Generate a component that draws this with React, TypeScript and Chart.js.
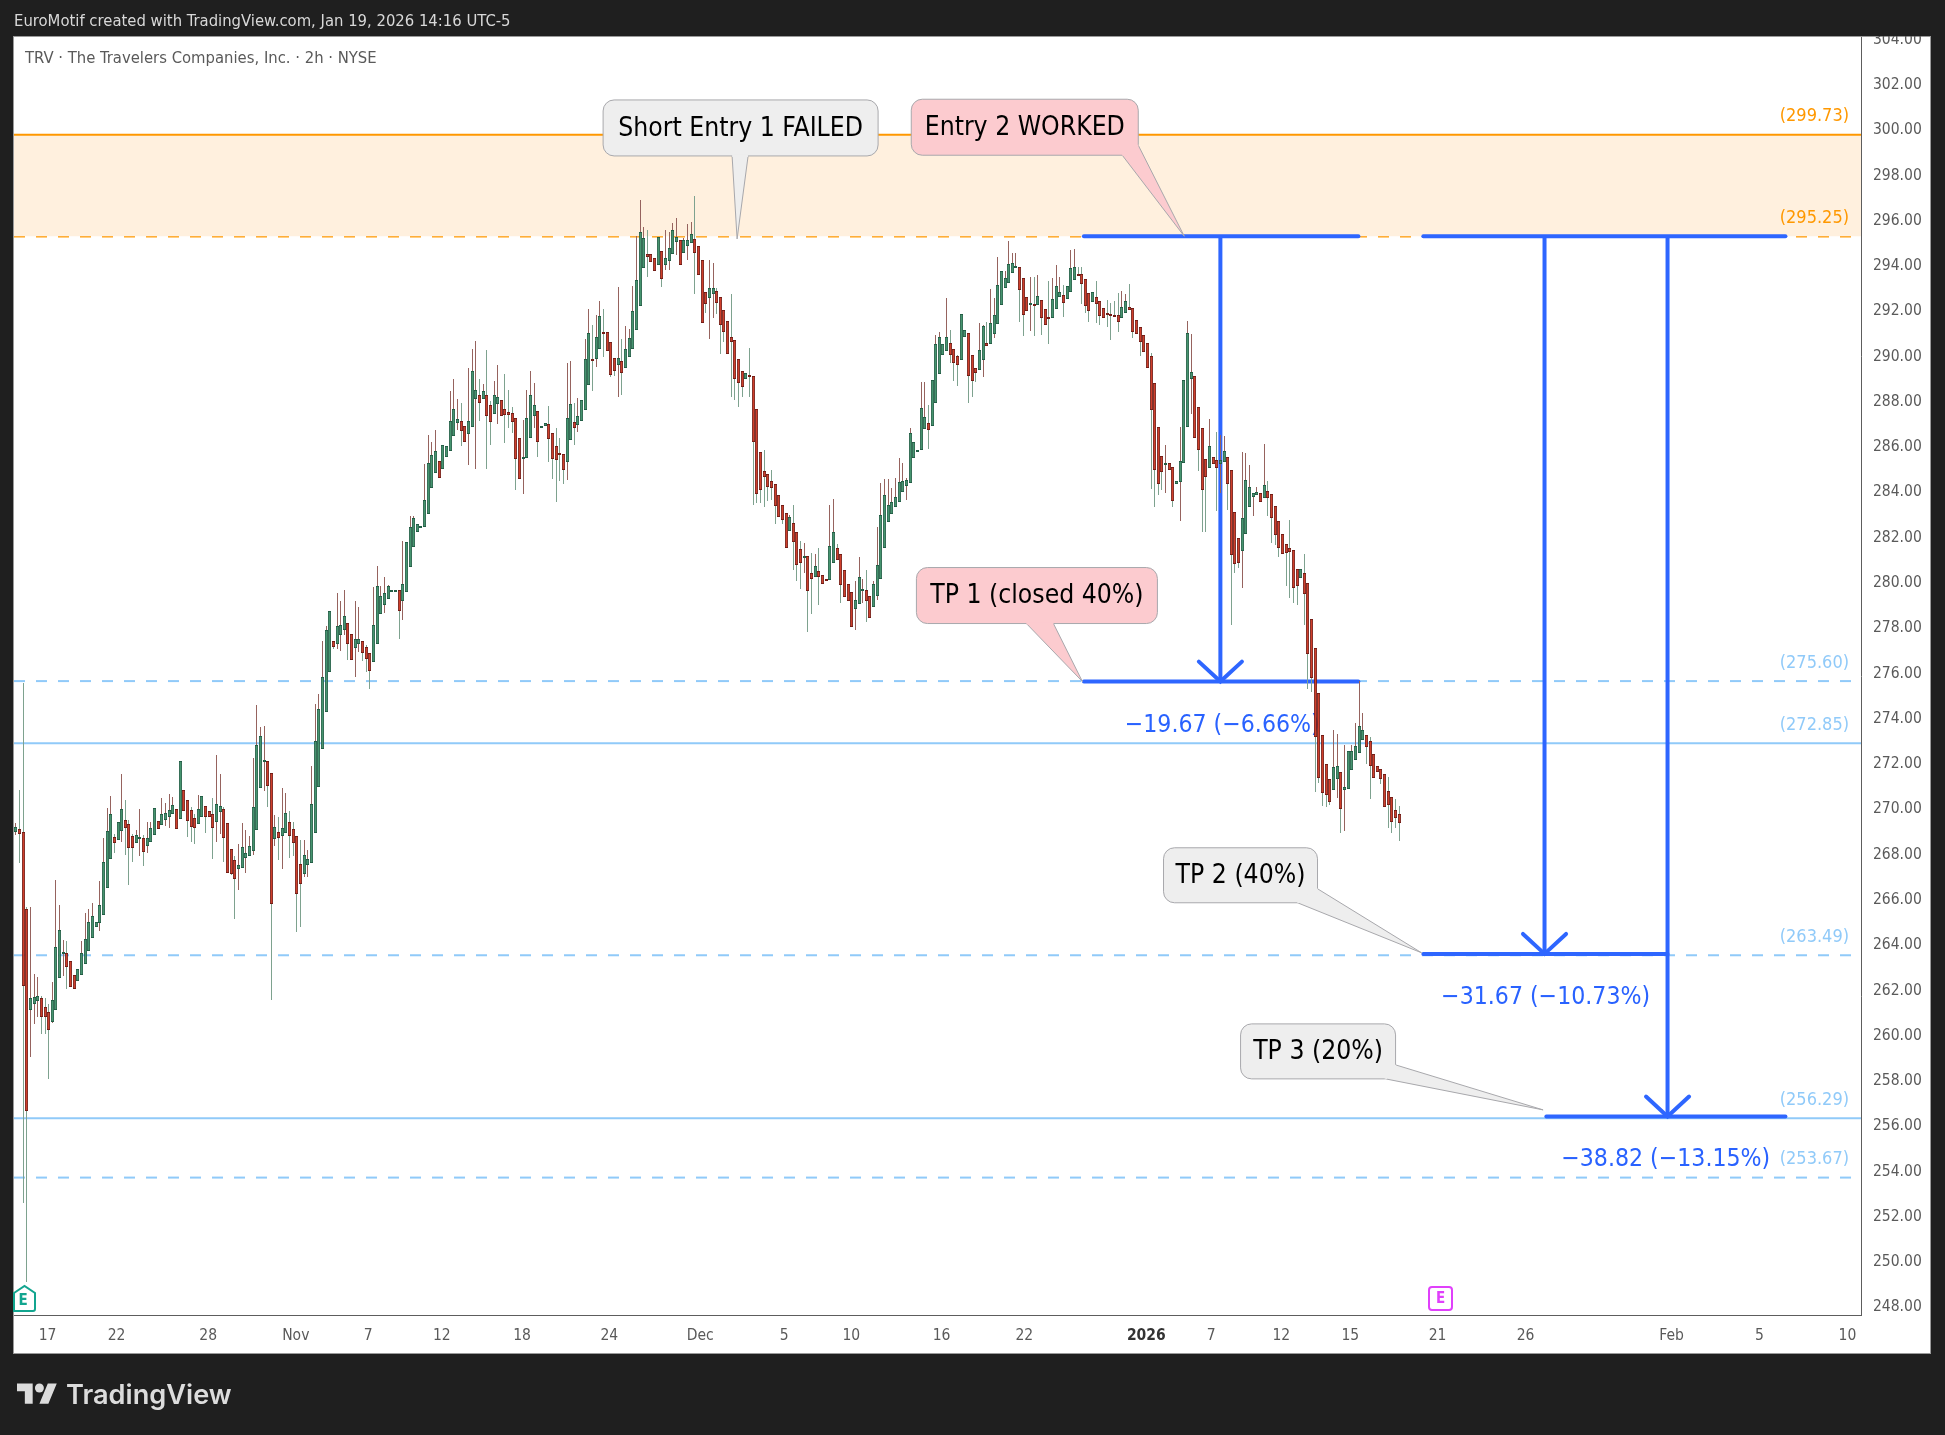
import { useEffect, useRef } from "react";
import { Chart, registerables } from "chart.js";

Chart.register(...registerables);

const W = 1945;
const H = 1435;
const FONT = '"DejaVu Sans Condensed", "DejaVu Sans", sans-serif';

// candles, 2h bars: G = close above open, R = close below open
const directions =
  "GRRRGGGRRR" + "GGGGRRRGGG" + "GGGGGGGRGG" + "RRRGGRGGGR" + "GGGGRGRRRR" +
  "GGRRRGGRRR" + "RGGGGGGGGR" + "RGRGGRRRRG" + "GGGGGGGRGG" + "GRRGGRRRGG" +
  "GGGGGRGGGG" + "GGGGGGRGGG" + "GGRRGGGRGR" + "RGGRRRRRRG" + "GGGRGGRRRR" +
  "RGGRGGGGRG" + "GRRRRGRGGG" + "GGGRRRGRGG" + "GGRGGGRRRR" + "GGRRRRRRRR" +
  "GRRRRRRRRR" + "RRGRRRGRRG" + "RRRGGRRRRR" + "GGGRRGGGGG" + "GGGGGGGGGG" +
  "RGGGGGRRRG" + "GRRRGGRGGG" + "GGGGGRRRGR" + "GRRRGGGRGG" + "GRRRRGRRRR" +
  "RRRGGRRRRR" + "RRRRRGRRGG" + "GGGRRRRGRR" + "GGRRRRGGGG" + "GRGRRRRRRR" +
  "RRGRRRRRRR" + "RGGRGGGGGG" + "RRRRRRRRRR";

const bodyTops = [
  269.17, 269.05, 268.92, 265.52, 261.58, 261.64, 261.7, 261.58, 261.19, 260.98,
  261.5, 263.87, 264.59, 263.62, 263.57, 263.25, 262.64, 262.87, 263.57, 264.23,
  264.95, 265.22, 264.98, 265.7, 267.63, 268.96, 269.72, 268.7, 269.36, 269.94,
  269.45, 269.27, 268.74, 268.79, 268.7, 268.66, 268.66, 269.1, 269.98, 269.41,
  269.72, 269.76, 269.89, 270.11, 269.94, 272.06, 270.78, 270.33, 269.89, 269.54,
  269.94, 270.51, 270.07, 269.85, 269.72, 270.16, 270.07, 269.94, 269.32, 268.2,
  267.68, 267.46, 268.26, 267.99, 268.3, 270.03, 272.76, 273.16, 272.1, 272.06,
  271.53, 269.14, 268.92, 269.1, 269.76, 269.36, 269.05, 268.74, 267.51, 267.9,
  267.73, 270.16, 272.94, 274.35, 275.77, 277.84, 278.68, 277.36, 278.02, 278.06,
  278.46, 278.15, 277.67, 277.45, 277.45, 277.36, 277.09, 276.83, 278.06, 279.79,
  279.35, 279.48, 279.79, 279.61, 279.62, 279.61, 279.87, 281.73, 282.42, 282.79,
  282.53, 282.44, 283.58, 285.22, 285.57, 285.75, 285.3, 286.01, 285.97, 287.07,
  287.6, 287.16, 287.07, 286.85, 287.11, 289.28, 288.44, 288.22, 288.4, 288.22,
  287.78, 288.22, 288.13, 288.0, 287.64, 287.47, 287.42, 287.2, 286.32, 285.52,
  287.2, 288.22, 287.78, 287.51, 286.85, 286.98, 286.94, 286.58, 285.97, 285.66,
  285.61, 287.2, 287.82, 287.03, 287.29, 288.0, 289.81, 290.96, 289.82, 290.82,
  291.72, 291.02, 291.0, 290.56, 289.85, 289.85, 289.72, 290.29, 290.74, 291.93,
  293.3, 295.42, 295.15, 294.48, 294.45, 294.27, 295.2, 294.58, 294.31, 294.71,
  295.51, 295.2, 295.07, 295.07, 295.07, 295.33, 295.11, 294.84, 294.18, 292.77,
  292.95, 292.95, 292.81, 292.55, 291.97, 291.49, 290.78, 290.65, 289.81, 289.28,
  289.23, 289.1, 289.06, 287.6, 285.7, 284.86, 284.73, 284.46, 284.29, 283.8,
  283.36, 283.01, 282.87, 282.57, 282.17, 281.42, 281.12, 281.11, 280.36, 280.7,
  280.45, 280.3, 280.09, 281.55, 282.17, 281.5, 281.2, 280.49, 279.9, 279.52,
  279.16, 280.18, 279.65, 279.61, 279.34, 279.87, 280.75, 282.92, 283.8, 283.36,
  283.49, 283.71, 284.38, 284.43, 284.47, 286.55, 286.15, 285.81, 287.65, 287.26,
  286.99, 288.89, 290.48, 290.79, 290.48, 290.79, 290.52, 290.26, 289.95, 291.8,
  291.1, 290.97, 289.99, 289.42, 290.21, 291.28, 290.52, 291.41, 291.76, 293.09,
  293.7, 293.4, 294.01, 294.06, 293.93, 293.88, 293.4, 292.56, 292.3, 292.26,
  292.6, 292.42, 292.03, 291.67, 292.47, 293.04, 292.78, 292.64, 293.04, 293.84,
  293.88, 293.57, 293.57, 293.35, 292.73, 292.78, 292.56, 292.38, 292.07, 291.85,
  291.8, 291.77, 291.76, 292.11, 292.38, 292.11, 292.07, 291.54, 291.23, 290.88,
  290.52, 289.95, 288.76, 286.81, 285.53, 285.22, 285.22, 285.05, 284.43, 285.31,
  288.89, 290.97, 289.24, 289.07, 287.7, 286.77, 285.4, 285.97, 285.49, 285.36,
  285.36, 285.75, 285.49, 284.91, 283.06, 281.91, 282.79, 284.47, 284.16, 283.9,
  283.94, 283.9, 284.25, 283.99, 283.85, 283.32, 282.66, 282.09, 281.65, 281.47,
  281.38, 280.54, 280.54, 280.36, 279.92, 278.33, 277.05, 275.06, 273.2, 271.92,
  271.26, 271.79, 271.84, 271.57, 270.91, 272.5, 272.5, 272.72, 273.6, 273.43,
  273.2, 272.94, 272.37, 271.84, 271.7, 271.48, 270.73, 270.47, 269.9, 269.72,
];

const bodyBottoms = [
  268.95, 268.83, 262.12, 256.61, 261.05, 261.32, 261.46, 260.78, 260.78, 260.17,
  260.56, 261.05, 262.48, 263.53, 262.96, 262.07, 262.01, 262.34, 262.6, 263.09,
  263.66, 264.27, 264.75, 264.9, 265.29, 266.45, 267.73, 268.43, 268.57, 268.96,
  269.1, 268.24, 268.21, 268.46, 268.64, 268.07, 268.33, 268.51, 268.82, 269.08,
  269.26, 269.48, 269.61, 269.75, 269.08, 269.52, 269.88, 269.44, 269.17, 269.13,
  269.3, 269.61, 269.58, 269.58, 269.13, 269.39, 269.8, 268.69, 267.14, 267.1,
  266.87, 267.29, 267.36, 267.8, 267.89, 268.11, 269.04, 270.89, 272.04, 270.98,
  265.74, 268.64, 268.69, 268.77, 268.91, 268.77, 268.46, 266.21, 266.65, 267.09,
  267.49, 267.58, 268.88, 270.91, 272.62, 274.22, 276.02, 277.12, 277.22, 277.62,
  277.84, 277.22, 276.52, 277.08, 277.25, 276.86, 276.56, 276.06, 276.46, 277.25,
  278.55, 278.95, 279.21, 279.54, 279.55, 278.68, 279.12, 279.52, 280.63, 281.51,
  282.17, 282.35, 282.39, 283.0, 284.11, 284.8, 284.58, 284.95, 285.48, 285.75,
  286.41, 286.98, 286.63, 286.14, 286.5, 286.81, 288.04, 287.87, 288.04, 287.29,
  287.03, 287.38, 287.82, 287.29, 287.34, 287.34, 287.03, 285.39, 284.51, 285.39,
  285.44, 286.32, 287.29, 286.14, 286.82, 286.85, 286.28, 285.39, 285.35, 285.6,
  284.91, 285.26, 286.23, 286.76, 286.89, 287.07, 287.56, 288.66, 289.79, 289.81,
  290.29, 290.99, 290.16, 289.1, 289.28, 289.54, 289.23, 289.45, 289.9, 290.29,
  291.13, 292.19, 293.83, 294.34, 294.09, 293.7, 293.96, 293.34, 293.96, 294.14,
  294.45, 294.98, 293.96, 294.49, 294.8, 294.93, 294.52, 293.52, 291.4, 292.24,
  292.5, 292.72, 292.28, 291.35, 291.0, 290.03, 290.56, 288.95, 288.75, 288.57,
  288.93, 289.01, 286.14, 283.85, 284.02, 284.63, 284.16, 284.11, 283.32, 282.87,
  282.7, 281.46, 282.21, 281.73, 280.71, 280.8, 281.09, 279.56, 280.09, 280.21,
  280.18, 279.87, 280.0, 280.05, 280.8, 280.93, 279.83, 279.3, 279.12, 278.0,
  278.77, 278.99, 279.56, 279.12, 278.37, 278.86, 279.38, 280.09, 281.5, 282.64,
  282.99, 283.27, 283.49, 283.94, 284.21, 284.34, 285.44, 285.78, 285.8, 286.73,
  286.67, 286.86, 287.87, 289.15, 289.99, 290.17, 289.99, 289.67, 289.55, 289.77,
  290.79, 289.07, 288.85, 289.2, 289.33, 289.77, 290.39, 290.48, 290.92, 291.36,
  292.2, 292.95, 293.17, 293.62, 293.84, 292.86, 291.76, 291.94, 292.27, 292.23,
  292.23, 291.63, 291.32, 291.58, 291.63, 292.03, 292.56, 292.29, 292.47, 292.78,
  293.31, 293.54, 293.13, 292.16, 291.94, 292.34, 292.25, 291.71, 291.63, 291.76,
  291.75, 291.75, 291.48, 291.63, 291.85, 291.98, 291.01, 290.92, 290.57, 290.13,
  289.42, 287.57, 284.91, 284.3, 284.83, 285.2, 284.91, 283.55, 284.3, 284.38,
  285.22, 286.84, 288.93, 286.33, 285.8, 284.03, 284.6, 285.0, 285.18, 285.0,
  285.18, 285.27, 284.3, 281.16, 280.76, 280.81, 281.34, 282.09, 283.28, 283.72,
  283.81, 283.5, 283.68, 283.69, 282.79, 282.04, 281.47, 281.23, 281.25, 281.29,
  279.7, 279.79, 280.14, 279.44, 276.78, 275.72, 273.12, 271.31, 270.64, 270.59,
  270.25, 270.78, 271.26, 269.94, 270.78, 270.82, 271.66, 272.1, 272.41, 272.98,
  272.68, 271.84, 271.31, 271.57, 271.26, 270.03, 270.14, 269.36, 269.54, 269.32,
];

const highs = [
  269.35, 270.8, 275.53, 265.6, 265.6, 262.66, 262.53, 261.7, 261.58, 261.32,
  262.3, 266.8, 265.7, 264.15, 264.12, 263.25, 262.64, 262.87, 264.12, 265.34,
  265.52, 265.79, 264.98, 266.77, 268.66, 269.98, 270.53, 268.85, 269.36, 271.5,
  270.35, 269.45, 268.83, 269.02, 269.95, 268.8, 269.38, 269.38, 269.98, 269.41,
  270.42, 270.23, 270.61, 270.47, 269.94, 272.06, 270.78, 270.33, 270.04, 269.72,
  270.57, 270.51, 270.07, 269.85, 270.42, 272.34, 271.5, 270.03, 269.32, 268.2,
  267.88, 268.39, 269.33, 269.02, 268.76, 272.22, 274.55, 273.56, 273.62, 272.06,
  271.53, 269.69, 269.61, 270.86, 270.64, 269.86, 269.39, 268.74, 268.58, 268.58,
  268.14, 271.85, 274.59, 275.03, 277.39, 278.03, 278.68, 277.36, 279.48, 279.14,
  279.62, 278.15, 277.67, 279.14, 278.87, 277.36, 277.2, 276.83, 279.74, 280.68,
  279.8, 280.18, 279.85, 279.61, 279.62, 279.61, 281.79, 281.73, 282.89, 282.89,
  282.53, 282.44, 285.19, 286.45, 286.16, 286.69, 285.3, 286.01, 285.97, 288.41,
  288.93, 288.06, 287.87, 286.85, 289.43, 290.26, 290.62, 288.93, 288.72, 290.22,
  287.97, 288.85, 289.54, 288.0, 289.15, 288.45, 287.69, 287.2, 286.32, 287.13,
  288.45, 289.29, 288.75, 287.51, 286.85, 286.98, 287.75, 286.58, 286.8, 286.32,
  285.61, 289.65, 289.72, 287.87, 288.09, 288.0, 290.71, 292.02, 291.33, 291.77,
  292.39, 292.02, 291.0, 290.56, 289.85, 293.0, 290.71, 291.28, 291.15, 293.05,
  295.26, 296.85, 295.64, 295.52, 294.45, 294.27, 295.2, 294.58, 295.52, 295.44,
  295.82, 296.04, 295.07, 295.16, 295.79, 295.88, 297.02, 294.84, 294.18, 292.77,
  294.2, 294.05, 292.98, 292.55, 291.97, 291.49, 292.68, 290.65, 289.81, 289.28,
  289.23, 290.3, 289.06, 287.6, 285.7, 285.8, 284.73, 284.92, 284.29, 283.8,
  283.36, 283.01, 282.93, 283.37, 282.17, 281.8, 281.68, 281.11, 281.24, 281.21,
  281.46, 280.3, 280.09, 283.37, 283.64, 281.65, 281.2, 280.49, 279.9, 279.52,
  280.02, 281.06, 280.1, 280.5, 279.34, 280.02, 282.39, 284.33, 284.52, 284.52,
  284.11, 284.55, 285.44, 285.22, 284.56, 286.77, 286.15, 285.81, 288.8, 288.8,
  287.8, 288.89, 290.89, 291.01, 290.48, 292.51, 291.11, 290.26, 290.0, 291.8,
  291.1, 290.97, 289.99, 289.42, 291.41, 291.34, 291.48, 292.91, 292.51, 294.35,
  293.7, 293.7, 295.04, 294.5, 294.5, 293.88, 293.4, 292.56, 293.47, 293.47,
  293.54, 292.42, 292.03, 293.28, 293.4, 293.98, 293.47, 293.1, 293.04, 294.65,
  294.69, 293.9, 293.91, 293.35, 292.73, 292.78, 293.28, 292.38, 292.07, 292.44,
  292.29, 292.37, 292.73, 292.83, 292.72, 293.14, 292.07, 291.54, 291.23, 290.88,
  290.52, 290.1, 288.76, 286.81, 285.53, 286.03, 285.22, 285.05, 284.43, 286.84,
  288.89, 291.51, 290.94, 289.07, 287.7, 286.77, 285.4, 287.17, 285.49, 286.62,
  286.48, 286.43, 285.49, 284.91, 283.06, 281.91, 285.71, 285.67, 285.15, 283.9,
  284.16, 283.9, 286.06, 284.46, 283.85, 283.32, 282.66, 282.09, 281.65, 282.72,
  281.38, 280.54, 280.54, 281.22, 279.92, 278.33, 277.05, 275.06, 273.2, 271.92,
  271.26, 273.44, 273.26, 271.57, 272.78, 272.5, 272.78, 273.74, 275.62, 274.18,
  273.2, 273.15, 272.37, 271.84, 271.7, 271.48, 271.35, 270.47, 270.39, 270.08,
];

const lows = [
  268.8, 267.55, 252.55, 249.06, 259.0, 260.46, 260.78, 260.0, 260.0, 258.04,
  260.5, 261.05, 262.48, 262.57, 261.98, 262.07, 262.01, 262.34, 262.6, 263.09,
  263.66, 264.27, 264.75, 264.54, 265.29, 266.45, 267.73, 268.02, 268.57, 268.5,
  267.92, 266.6, 267.62, 268.46, 267.89, 267.43, 268.02, 268.51, 268.82, 269.08,
  269.26, 269.2, 269.1, 269.75, 269.08, 269.52, 269.88, 268.73, 268.49, 268.4,
  269.3, 269.61, 268.9, 269.58, 267.74, 268.51, 268.85, 267.62, 267.14, 267.04,
  265.07, 266.37, 267.36, 267.14, 267.89, 267.93, 269.04, 270.89, 270.75, 270.04,
  261.53, 268.33, 267.7, 267.3, 268.91, 267.79, 267.88, 264.5, 264.75, 266.96,
  266.96, 267.58, 268.88, 270.91, 272.62, 274.22, 276.02, 277.02, 277.02, 276.95,
  277.64, 276.52, 276.52, 275.8, 276.9, 276.5, 276.02, 275.27, 276.46, 277.25,
  278.55, 278.62, 279.21, 279.54, 279.55, 277.46, 278.3, 279.52, 280.63, 281.51,
  282.17, 282.35, 282.39, 283.0, 284.11, 284.8, 284.58, 284.95, 285.48, 285.75,
  286.41, 286.69, 285.98, 286.14, 285.14, 286.81, 284.98, 287.09, 288.04, 284.98,
  286.03, 287.38, 286.95, 287.29, 286.13, 286.8, 286.58, 284.04, 284.51, 283.88,
  285.44, 286.32, 286.8, 285.51, 286.82, 286.85, 285.29, 284.52, 283.52, 284.45,
  284.32, 284.48, 286.23, 286.03, 286.61, 287.07, 287.56, 288.66, 288.43, 289.48,
  290.29, 289.93, 290.16, 289.04, 289.07, 288.16, 288.23, 289.45, 289.9, 290.29,
  291.13, 292.19, 293.83, 293.46, 294.09, 293.7, 293.96, 293.02, 293.75, 293.75,
  294.45, 294.42, 293.96, 294.49, 294.2, 294.93, 292.7, 293.52, 291.4, 291.87,
  290.72, 291.65, 291.81, 290.06, 290.59, 290.03, 288.16, 288.01, 287.72, 288.16,
  288.93, 288.16, 283.37, 283.45, 283.48, 283.3, 283.55, 283.6, 282.54, 282.87,
  282.54, 281.46, 282.21, 280.5, 280.02, 279.66, 280.39, 277.78, 278.56, 280.21,
  278.96, 279.87, 280.0, 280.05, 280.8, 280.93, 279.06, 279.3, 279.12, 278.0,
  277.85, 278.99, 279.03, 278.22, 278.37, 278.86, 279.18, 280.09, 281.5, 282.64,
  282.99, 283.27, 283.49, 283.94, 283.6, 284.34, 285.44, 285.78, 285.8, 286.73,
  285.86, 286.86, 287.87, 289.15, 289.99, 290.17, 289.67, 288.87, 288.65, 289.77,
  290.79, 287.9, 288.17, 288.83, 289.33, 289.05, 290.39, 290.48, 290.74, 291.36,
  292.2, 292.95, 293.17, 293.62, 293.84, 291.44, 290.85, 291.94, 291.07, 290.85,
  292.23, 290.89, 291.32, 290.5, 291.63, 292.03, 292.56, 291.7, 292.47, 292.78,
  293.31, 293.54, 292.26, 291.88, 291.44, 292.34, 291.41, 291.33, 291.63, 291.22,
  290.67, 291.7, 291.04, 291.63, 291.85, 291.98, 290.75, 290.92, 289.96, 290.13,
  289.42, 284.09, 283.31, 283.83, 284.05, 283.9, 284.91, 283.31, 284.3, 282.69,
  285.22, 286.84, 287.4, 286.33, 284.86, 282.2, 282.2, 285.0, 285.18, 283.13,
  283.9, 285.27, 283.16, 278.08, 280.37, 280.59, 279.7, 282.09, 283.28, 282.9,
  283.81, 283.5, 283.68, 282.91, 281.72, 281.6, 281.06, 281.23, 279.8, 279.26,
  279.07, 278.97, 280.14, 278.08, 275.24, 275.13, 270.69, 271.1, 270.1, 270.05,
  270.13, 270.78, 270.45, 268.88, 269.0, 270.82, 271.66, 272.1, 272.41, 272.98,
  271.94, 270.38, 271.31, 271.57, 271.06, 270.03, 269.1, 268.88, 269.1, 268.55,
];

const slotCount = 506;

// price axis
const priceTicks = [
  248, 250, 252, 254, 256, 258, 260, 262, 264, 266, 268, 270, 272, 274, 276, 278,
  280, 282, 284, 286, 288, 290, 292, 294, 296, 298, 300, 302, 304,
];

// time axis: bar slot and label
const timeTickSlots = [8.7, 27.6, 52.7, 76.7, 96.5, 116.7, 138.7, 162.6, 187.5, 210.5, 228.9, 253.6, 276.3, 309.7, 327.5, 346.7, 365.6, 389.5, 413.6, 453.6, 477.7, 501.8];
const timeTickLabels = ["17", "22", "28", "Nov", "7", "12", "18", "24", "Dec", "5", "10", "16", "22", "2026", "7", "12", "15", "21", "26", "Feb", "5", "10"];

// horizontal levels
const levelPrices = [299.73, 295.25, 275.6, 272.85, 263.49, 256.29, 253.67];
const levelDashed = [false, true, true, false, true, false, true];
const levelColors = ["#ff9800", "#ff9800", "#90caf9", "#90caf9", "#90caf9", "#90caf9", "#90caf9"];

// blue position drawings
const entryLevel = 295.25;
const targetSegments = [
  { from: 292.6, to: 367.8, price: 295.25 },
  { from: 292.6, to: 367.8, price: 275.58 },
  { from: 385.6, to: 484.8, price: 295.25 },
  { from: 385.6, to: 452.5, price: 263.55 },
  { from: 419.3, to: 484.8, price: 256.37 },
];
const arrowSlots = [330.0, 418.8, 452.5];
const arrowPrices = [275.58, 263.55, 256.37];
const arrowLabels = ["−19.67 (−6.66%)", "−31.67 (−10.73%)", "−38.82 (−13.15%)"];
const arrowLabelPrices = [273.62, 261.64, 254.48];
const arrowLabelSlots = [330.5, 419.1, 452];

const callouts = [
  { text: "Short Entry 1 FAILED", fill: "#eeeeee", slot: 197.6, price: 295.13, box: [-134, -139, 275, 56], base: [[-5, -83], [11, -83]] },
  { text: "Entry 2 WORKED", fill: "#fccbcf", slot: 320.1, price: 295.25, box: [-273, -137, 227, 56], base: [[-62, -81], [-46, -91]] },
  { text: "TP 1 (closed 40%)", fill: "#fccbcf", slot: 292.2, price: 275.58, box: [-166, -114, 241, 56], base: [[-56, -58], [-29, -58]] },
  { text: "TP 2 (40%)", fill: "#eeeeee", slot: 385.1, price: 263.6, box: [-258, -105, 154, 55], base: [[-124, -50], [-104, -64]] },
  { text: "TP 3 (20%)", fill: "#eeeeee", slot: 418.4, price: 256.66, box: [-302.5, -86, 155, 55], base: [[-157.5, -31], [-147.5, -45]] },
];

const isUp = (i: number) => directions[i] === "G";

const drawRound = (ctx: CanvasRenderingContext2D, x: number, y: number, w: number, h: number, r: number) => {
  ctx.beginPath();
  ctx.roundRect(x, y, w, h, r);
};

const chartFrame = {
  id: "chartFrame",
  beforeDraw(chart: any) {
    const ctx = chart.ctx;
    ctx.save();
    ctx.fillStyle = "#1f1f1f";
    ctx.fillRect(0, 0, W, H);
    ctx.fillStyle = "#ffffff";
    ctx.fillRect(14, 37, 1916, 1316);
    ctx.strokeStyle = "#9a9a9a";
    ctx.lineWidth = 1;
    ctx.strokeRect(13.5, 36.5, 1917, 1317);
    ctx.restore();
  },
  beforeDatasetDraw(chart: any, args: any) {
    if (args.meta.order !== 1) return;
    const ctx = chart.ctx;
    const { x, y } = chart.scales;
    // snap candles to the pixel grid
    chart.data.datasets.forEach((ds: any, d: number) => {
      if (ds.type !== "bar") return;
      chart.getDatasetMeta(d).data.forEach((el: any) => {
        el.x = Math.floor(el.x) + 0.5;
        el.y = Math.round(el.y);
        el.base = Math.round(el.base);
        if (el.base - el.y < 2) el.base = el.y + 2;
      });
    });
    ctx.save();
    ctx.textAlign = "right";
    ctx.textBaseline = "middle";
    ctx.font = `18px ${FONT}`;
    levelPrices.forEach((p, i) => {
      ctx.fillStyle = levelColors[i];
      ctx.fillText(`(${p.toFixed(2)})`, 1849, y.getPixelForValue(p) - 18);
    });
    ctx.textAlign = "center";
    ctx.font = `24.6px ${FONT}`;
    ctx.fillStyle = "#2962ff";
    arrowLabels.forEach((t, i) => {
      ctx.fillText(t, x.getPixelForValue(arrowLabelSlots[i]), y.getPixelForValue(arrowLabelPrices[i]));
    });
    ctx.restore();
  },
  afterDatasetsDraw(chart: any) {
    const ctx = chart.ctx;
    const { x, y } = chart.scales;
    ctx.save();
    // callouts
    callouts.forEach((c) => {
      const tx = x.getPixelForValue(c.slot);
      const ty = y.getPixelForValue(c.price);
      const [l, t, w, h] = c.box;
      ctx.fillStyle = c.fill;
      ctx.strokeStyle = "#a8a8ac";
      ctx.lineWidth = 1;
      drawRound(ctx, tx + l, ty + t, w, h, 11);
      ctx.fill();
      ctx.stroke();
      ctx.beginPath();
      ctx.moveTo(tx + c.base[0][0], ty + c.base[0][1]);
      ctx.lineTo(tx, ty);
      ctx.lineTo(tx + c.base[1][0], ty + c.base[1][1]);
      ctx.fill();
      ctx.stroke();
      // hide the box border under the pointer
      ctx.strokeStyle = c.fill;
      ctx.lineWidth = 2;
      ctx.beginPath();
      ctx.moveTo(tx + c.base[0][0], ty + c.base[0][1]);
      ctx.lineTo(tx + c.base[1][0], ty + c.base[1][1]);
      ctx.stroke();
      ctx.fillStyle = "#000000";
      ctx.font = `26.3px ${FONT}`;
      ctx.textAlign = "center";
      ctx.textBaseline = "middle";
      ctx.fillText(c.text, tx + l + w / 2, ty + t + h / 2 + 1);
    });
    // earnings markers
    ctx.lineWidth = 2;
    ctx.strokeStyle = "#12a58f";
    ctx.fillStyle = "#ffffff";
    ctx.beginPath();
    ctx.moveTo(14, 1293);
    ctx.lineTo(24.5, 1286);
    ctx.lineTo(35, 1293);
    ctx.lineTo(35, 1309);
    ctx.quadraticCurveTo(35, 1311, 33, 1311);
    ctx.lineTo(14, 1311);
    ctx.closePath();
    ctx.fill();
    ctx.stroke();
    ctx.fillStyle = "#12a58f";
    ctx.font = `bold 15px ${FONT}`;
    ctx.textAlign = "center";
    ctx.textBaseline = "middle";
    ctx.fillText("E", 23, 1301);
    ctx.strokeStyle = "#e040fb";
    ctx.fillStyle = "#ffffff";
    drawRound(ctx, 1429, 1287, 23, 23, 3);
    ctx.fill();
    ctx.stroke();
    ctx.fillStyle = "#e040fb";
    ctx.fillText("E", 1440.5, 1299);

    // clip the axis above the panel, then header text
    ctx.fillStyle = "#1f1f1f";
    ctx.fillRect(0, 0, W, 36);
    ctx.textAlign = "left";
    ctx.fillStyle = "#d8d8d8";
    ctx.font = `16.5px ${FONT}`;
    ctx.fillText("EuroMotif created with TradingView.com, Jan 19, 2026 14:16 UTC-5", 14, 22);
    ctx.fillStyle = "#5a5a5a";
    ctx.fillText("TRV · The Travelers Companies, Inc. · 2h · NYSE", 25, 59);

    // logo
    ctx.fillStyle = "#dcdcdc";
    ctx.save();
    ctx.translate(17, 1379);
    ctx.scale(1.12, 1.12);
    ctx.fill(new Path2D("M14 22H7V11H0V4h14v18zM28 22h-8l7.5-18h8L28 22z"));
    ctx.beginPath();
    ctx.arc(20, 8, 4, 0, Math.PI * 2);
    ctx.fill();
    ctx.restore();
    ctx.font = '600 27.2px Inter, "DejaVu Sans", sans-serif';
    ctx.fillText("TradingView", 66, 1396);
    ctx.restore();
  },
};

export default function App() {
  const canvasRef = useRef<HTMLCanvasElement | null>(null);

  useEffect(() => {
    if (!canvasRef.current) return;
    document.body.style.margin = "0";

    const levelSets = levelPrices.map((p, i) => ({
      type: "line" as const,
      data: [{ x: -0.5, y: p }, { x: slotCount - 0.5, y: p }],
      borderColor: levelColors[i],
      borderWidth: i === 1 ? 2.5 : 2,
      borderDash: levelDashed[i] ? [11, 11] : [],
      pointRadius: 0,
      // the orange zone between the two top levels
      fill: i === 0 ? { value: levelPrices[1] } : false,
      backgroundColor: "#fff0de",
      order: 4,
    }));

    const segmentSets = targetSegments.map((s) => ({
      type: "line" as const,
      data: [{ x: s.from, y: s.price }, { x: s.to, y: s.price }],
      borderColor: "#2e66ff",
      borderWidth: 4,
      borderCapStyle: "round" as const,
      pointRadius: 0,
      order: 3,
    }));

    const arrowSets = arrowSlots.flatMap((slot, i) => [
      {
        type: "line" as const,
        data: [{ x: slot, y: entryLevel }, { x: slot, y: arrowPrices[i] }],
        borderColor: "#2e66ff",
        borderWidth: 4,
        pointRadius: 0,
        order: 3,
      },
      {
        type: "line" as const,
        data: [
          { x: slot - 5.9, y: arrowPrices[i] + 0.88 },
          { x: slot, y: arrowPrices[i] },
          { x: slot + 5.9, y: arrowPrices[i] + 0.88 },
        ],
        borderColor: "#2e66ff",
        borderWidth: 4,
        borderCapStyle: "round" as const,
        pointRadius: 0,
        order: 3,
      },
    ]);

    const candleIdx = bodyTops.map((_, i) => i);

    const chart = new Chart(canvasRef.current, {
      type: "bar",
      data: {
        datasets: [
          ...levelSets,
          ...segmentSets,
          ...arrowSets,
          {
            type: "bar" as const,
            data: candleIdx.map((i) => ({ x: i, y: [lows[i], highs[i]] })),
            backgroundColor: candleIdx.map((i) => (isUp(i) ? "#96635e" : "#7ea28f")),
            borderWidth: 0,
            barThickness: 1,
            grouped: false,
            inflateAmount: 0,
            order: 1,
          },
          {
            type: "bar" as const,
            data: candleIdx.map((i) => ({ x: i, y: [bodyBottoms[i], bodyTops[i]] })),
            backgroundColor: candleIdx.map((i) => (isUp(i) ? "#46946f" : "#cf3f2b")),
            borderColor: candleIdx.map((i) => (isUp(i) ? "#215c44" : "#701b15")),
            borderWidth: 0.9,
            borderSkipped: false,
            barThickness: 3,
            grouped: false,
            inflateAmount: 0,
            order: 0,
          },
        ] as any,
      },
      options: {
        responsive: false,
        animation: false,
        devicePixelRatio: 1,
        layout: { padding: { left: 14, top: 37, right: 15, bottom: 82 } },
        plugins: { legend: { display: false }, tooltip: { enabled: false } },
        scales: {
          x: {
            type: "linear",
            offset: false,
            min: -0.5,
            max: slotCount - 0.5,
            grid: { display: false, drawTicks: false },
            border: { display: true, color: "#5d5d5d" },
            afterFit: (s: any) => {
              s.height = 38;
            },
            afterBuildTicks: (s: any) => {
              s.ticks = timeTickSlots.map((v) => ({ value: v }));
            },
            ticks: {
              autoSkip: false,
              maxRotation: 0,
              padding: 12,
              color: (c: any) => (c.index === 13 ? "#333333" : "#5a5a5a"),
              font: (c: any) => ({ family: FONT, size: 15.5, weight: c.index === 13 ? "bold" : "normal" }),
              callback: (_v: any, i: number) => timeTickLabels[i],
            },
          },
          y: {
            type: "linear",
            position: "right",
            min: 247.6,
            max: 304.05,
            grid: { display: false, drawTicks: false },
            border: { display: true, color: "#5d5d5d" },
            afterFit: (s: any) => {
              s.width = 69;
            },
            afterBuildTicks: (s: any) => {
              s.ticks = priceTicks.map((v) => ({ value: v }));
            },
            ticks: {
              autoSkip: false,
              padding: 12,
              labelOffset: 1.5,
              color: "#5a5a5a",
              font: { family: FONT, size: 15.5 },
              callback: (v: any) => Number(v).toFixed(2),
            },
          },
        },
      },
      plugins: [chartFrame],
    });

    return () => {
      chart.destroy();
    };
  }, []);

  return <canvas ref={canvasRef} width={W} height={H} style={{ display: "block" }} />;
}
